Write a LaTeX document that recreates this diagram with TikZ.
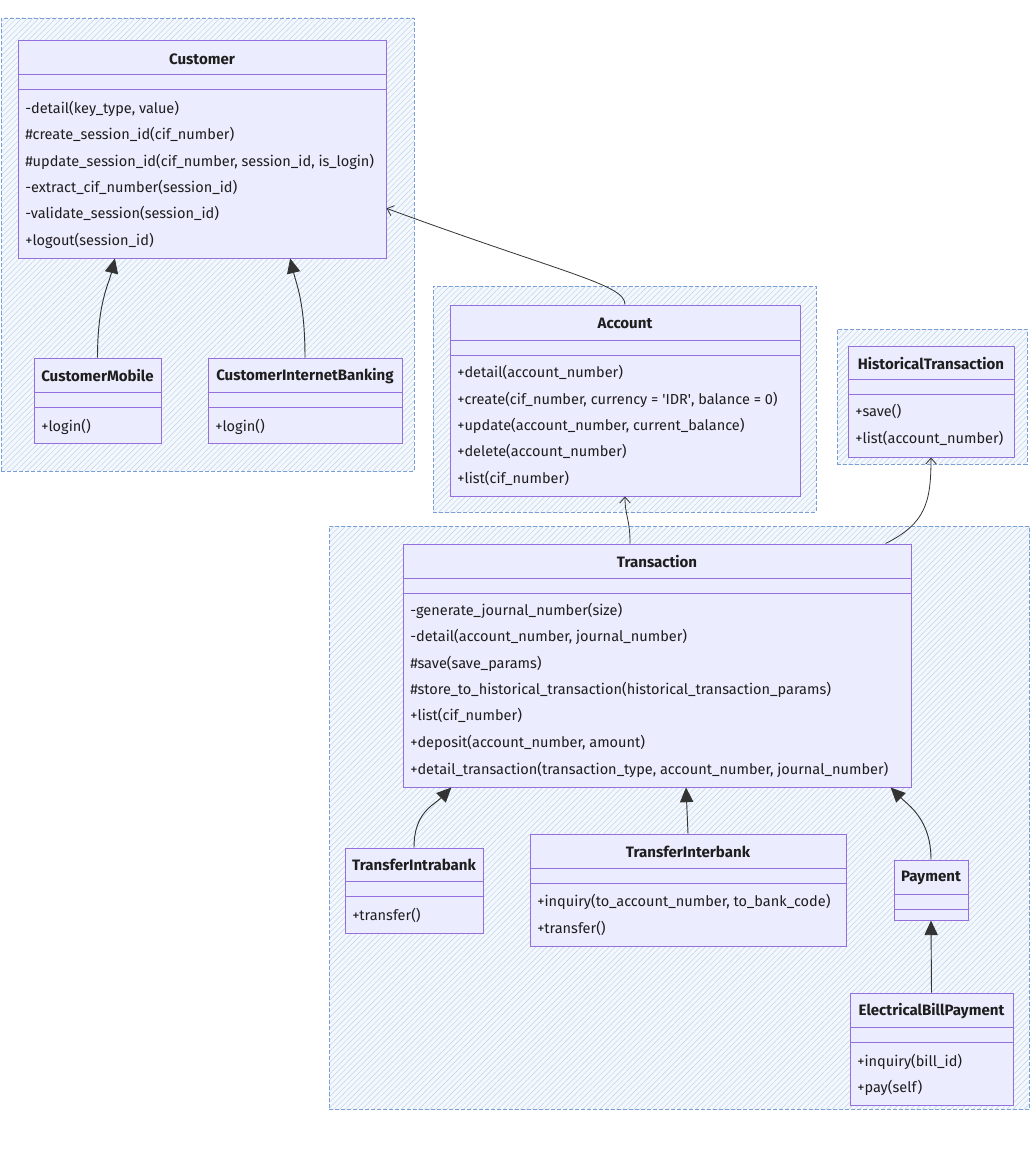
\documentclass[tikz,border=0pt]{standalone}
\usepackage{fontspec}
\setmainfont{Fira Sans}
\usetikzlibrary{arrows.meta,patterns.meta,fit,calc}
\definecolor{boxfill}{HTML}{ECECFF}
\definecolor{boxline}{HTML}{9370DB}
\definecolor{clline}{HTML}{7B9FD4}
\definecolor{hatch}{HTML}{BCD2EE}
\definecolor{clfill}{HTML}{F4F8FD}
\definecolor{edge}{HTML}{333333}
\definecolor{txt}{HTML}{1E1E1E}
\tikzset{
  classbox/.style={draw=boxline, fill=boxfill, line width=0.75pt, inner sep=0pt},
  sepline/.style={draw=boxline, line width=0.75pt},
  titletext/.style={text=txt, font=\fontsize{11.3pt}{13pt}\selectfont\bfseries, inner sep=0pt, yshift=-0.6pt},
  methtext/.style={text=txt, font=\fontsize{10.9pt}{13pt}\selectfont, inner sep=0pt, anchor=west, yshift=-1.1pt},
  clusterbox/.style={draw=clline, dash pattern=on 3pt off 1.5pt, line width=0.6pt, inner sep=0pt},
  inh/.style={draw=edge, line width=0.7pt, -{Triangle[length=11pt,width=10pt,fill=edge]}},
  assoc/.style={draw=edge, line width=0.6pt, -{Straight Barb[length=4.5pt,width=8pt]}}
}
\newcommand{\clusterarea}[5]{%
  \fill[clfill] (#2,#3) rectangle (#4,#5);
  \fill[pattern={Lines[angle=45,distance=3pt,line width=0.35pt]}, pattern color=hatch] (#2,#3) rectangle (#4,#5);
  \node[clusterbox, fit={(#2,#3) (#4,#5)}] (#1) {};
}
\newcommand{\umlclass}[7]{%
  \node[classbox, fit={(#2,#3) (#4,#5)}] (#1) {};
  \draw[sepline] (#2,#6) -- (#4,#6);
  \draw[sepline] (#2,{#6+15}) -- (#4,{#6+15});
  \node[titletext] (#1-title) at ({(#2+#4)/2},{(#3+#6)/2}) {#7};
}
\newcommand{\meth}[4]{\node[methtext] (#1) at (#2,#3) {#4};}
\begin{document}
\begin{tikzpicture}[x=0.75pt,y=-0.75pt]
\useasboundingbox (0,0) rectangle (1031,1149);
\fill[white] (0,0) rectangle (1031,1149);

% clusters
\clusterarea{cl1}{1}{18}{414}{471}
\clusterarea{cl2}{433}{286}{816}{512}
\clusterarea{cl3}{837}{329}{1027}{464}
\clusterarea{cl4}{329}{526}{1029.5}{1109}

% Customer
\umlclass{cust}{18}{41}{386}{258}{75}{Customer}
\meth{cust-m1}{25}{107}{-detail(key\_type, value)}
\meth{cust-m2}{25}{133}{\#create\_session\_id(cif\_number)}
\meth{cust-m3}{25}{160}{\#update\_session\_id(cif\_number, session\_id, is\_login)}
\meth{cust-m4}{25}{186}{-extract\_cif\_number(session\_id)}
\meth{cust-m5}{25}{212}{-validate\_session(session\_id)}
\meth{cust-m6}{25}{239}{+logout(session\_id)}

\umlclass{cm}{34}{358}{161}{443}{392}{CustomerMobile}
\meth{cm-m1}{41}{425}{+login()}
\umlclass{cib}{208}{358}{402}{443}{392}{CustomerInternetBanking}
\meth{cib-m1}{215}{425}{+login()}

% Account
\umlclass{acc}{450}{305}{800}{496}{340}{Account}
\meth{acc-m1}{457}{371}{+detail(account\_number)}
\meth{acc-m2}{457}{398}{+create(cif\_number, currency = \textquotesingle IDR\textquotesingle, balance = 0)}
\meth{acc-m3}{457}{424}{+update(account\_number, current\_balance)}
\meth{acc-m4}{457}{450}{+delete(account\_number)}
\meth{acc-m5}{457}{477}{+list(cif\_number)}

% HistoricalTransaction
\umlclass{hist}{848}{346}{1014}{457}{379}{HistoricalTransaction}
\meth{hist-m1}{855}{410}{+save()}
\meth{hist-m2}{855}{437}{+list(account\_number)}

% Transaction
\umlclass{trans}{403}{544}{911}{787}{578}{Transaction}
\meth{trans-m1}{410}{609}{-generate\_journal\_number(size)}
\meth{trans-m2}{410}{635}{-detail(account\_number, journal\_number)}
\meth{trans-m3}{410}{662}{\#save(save\_params)}
\meth{trans-m4}{410}{688}{\#store\_to\_historical\_transaction(historical\_transaction\_params)}
\meth{trans-m5}{410}{714}{+list(cif\_number)}
\meth{trans-m6}{410}{741}{+deposit(account\_number, amount)}
\meth{trans-m7}{410}{768}{+detail\_transaction(transaction\_type, account\_number, journal\_number)}

\umlclass{tintra}{345}{848}{483}{933}{881}{TransferIntrabank}
\meth{tintra-m1}{352}{914}{+transfer()}
\umlclass{tinter}{530}{834}{846}{946}{868}{TransferInterbank}
\meth{tinter-m1}{537}{900}{+inquiry(to\_account\_number, to\_bank\_code)}
\meth{tinter-m2}{537}{927}{+transfer()}
\umlclass{pay}{894}{860}{968}{920}{894}{Payment}
\umlclass{ebp}{850}{993}{1013}{1105}{1027}{ElectricalBillPayment}
\meth{ebp-m1}{857}{1060}{+inquiry(bill\_id)}
\meth{ebp-m2}{857}{1086}{+pay(self)}

% edges
\draw[inh] (cm.north) .. controls +(0,-55) and +(-6,25) .. ($(cust.south west)!0.264!(cust.south east)$);
\draw[inh] (cib.north) .. controls +(0,-55) and +(6,25) .. ($(cust.south west)!0.739!(cust.south east)$);
\draw[assoc] (acc.north) .. controls +(0,-20) and +(180,66) .. ($(cust.north east)!0.77!(cust.south east)$);
\draw[assoc] ($(trans.north west)!0.447!(trans.north east)$) .. controls +(0,-25) and +(0,20) .. (acc.south);
\draw[assoc] ($(trans.north west)!0.949!(trans.north east)$) .. controls +(40,-20) and +(0,45) .. (hist.south);
\draw[inh] (tintra.north) .. controls +(0,-35) and +(-18,18) .. ($(trans.south west)!0.096!(trans.south east)$);
\draw[inh] (tinter.north) -- ($(trans.south west)!0.557!(trans.south east)$);
\draw[inh] (pay.north) .. controls +(0,-40) and +(18,18) .. ($(trans.south west)!0.959!(trans.south east)$);
\draw[inh] (ebp.north) -- (pay.south);
\end{tikzpicture}
\end{document}
